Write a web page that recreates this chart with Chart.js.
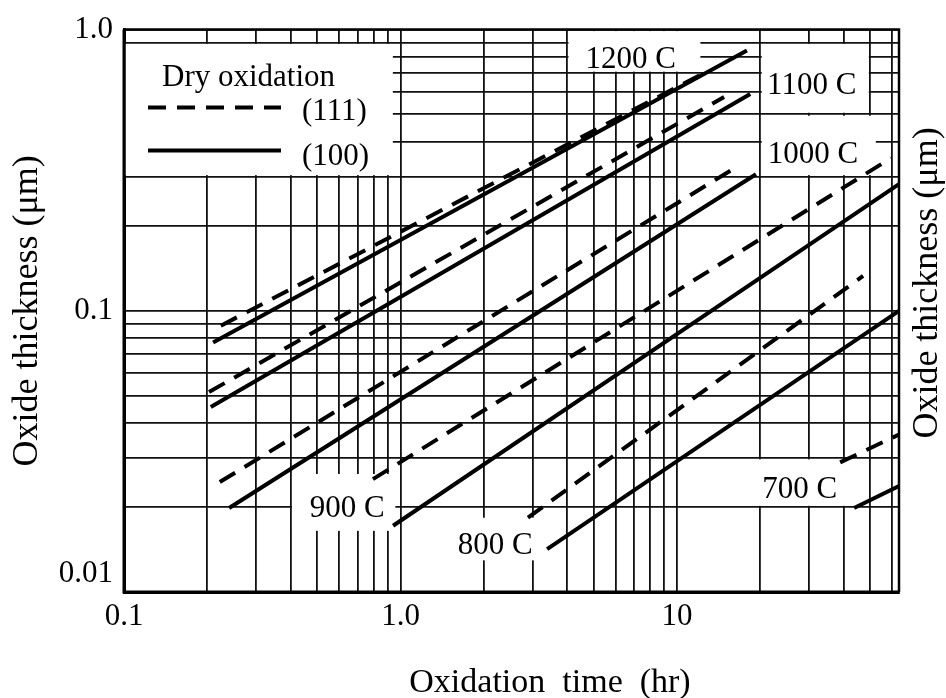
<!DOCTYPE html>
<html>
<head>
<meta charset="utf-8">
<script src="https://cdn.jsdelivr.net/npm/chart.js@4.4.1/dist/chart.umd.min.js"></script>
<style>
  html, body { margin: 0; padding: 0; background: #fff; }
</style>
</head>
<body>
<canvas id="chart" width="946" height="698"></canvas>
<script>
const FONT = '"Liberation Serif", "Times New Roman", serif';

// Dry oxidation, end points of each straight line (log-log), 1200 C ... 700 C
const temps = ["1200 C", "1100 C", "1000 C", "900 C", "800 C", "700 C"];
const time111 = [[0.224, 12.1], [0.203, 14.8], [0.222, 16.6], [0.795, 59.4], [2.89, 47.1], [38.9, 63.5]];
const thick111 = [[0.0885, 0.689], [0.0514, 0.576], [0.0246, 0.327], [0.0252, 0.349], [0.0184, 0.133], [0.0289, 0.0363]];
const time100 = [[0.210, 17.9], [0.206, 18.4], [0.240, 19.3], [0.940, 63.5], [3.39, 63.5], [43.7, 63.5]];
const thick100 = [[0.0772, 0.843], [0.0455, 0.590], [0.0199, 0.306], [0.0172, 0.282], [0.0142, 0.100], [0.0199, 0.0238]];

// grid lines and labelled ticks
const xGrid = [0.1, 0.2, 0.3, 0.4, 0.5, 0.6, 0.7, 0.8, 0.9, 1, 2, 3, 4, 5, 6, 7, 8, 9, 10, 20, 30, 40, 50, 60];
const yGrid = [0.01, 0.02, 0.03, 0.04, 0.05, 0.06, 0.07, 0.08, 0.09, 0.1, 0.2, 0.3, 0.4, 0.5, 0.6, 0.7, 0.8, 0.9, 1];
const xTickLabels = { 0.1: "0.1", 1: "1.0", 10: "10" };
const yTickLabels = { 0.01: ["0.01", ""], 0.1: "0.1", 1: "1.0" };

// where the temperature labels sit (data coords) and the white boxes behind them
const labelX = [6.8, 30.7, 31, 0.642, 2.2, 27.8];
const labelY = [0.78, 0.63, 0.36, 0.0198, 0.0146, 0.023];
const labelBoxes = [
  [4, 12.3, 0.7, 1.0],
  [20, 50, 0.5, 0.9],
  [20, 53, 0.3, 0.5],
  [0.4, 0.97, 0.0163, 0.0266],
  [1.0, 4, 0.0128, 0.0186],
  [10, 50, 0.02, 0.03]
];
const legendBox = [0.1, 0.95, 0.3, 0.9];

const DASH = [18, 11];

const datasets = [];
temps.forEach((t, i) => {
  datasets.push({
    label: t + " (111)",
    data: time111[i].map((v, k) => ({ x: v, y: thick111[i][k] })),
    borderColor: "#000",
    borderWidth: 4,
    borderDash: DASH,
    pointRadius: 0,
    fill: false
  });
  datasets.push({
    label: t + " (100)",
    data: time100[i].map((v, k) => ({ x: v, y: thick100[i][k] })),
    borderColor: "#000",
    borderWidth: 4,
    pointRadius: 0,
    fill: false
  });
});

const overlay = {
  id: "overlay",
  beforeDatasetsDraw(chart) {
    const { ctx, scales: { x, y } } = chart;
    ctx.save();
    ctx.fillStyle = "#fff";
    [legendBox, ...labelBoxes].forEach(b => {
      const x1 = x.getPixelForValue(b[0]) + 1.5;
      const x2 = x.getPixelForValue(b[1]) - 1.5;
      const y1 = y.getPixelForValue(b[3]) + 1.5;
      const y2 = y.getPixelForValue(b[2]) - 1.5;
      ctx.fillRect(x1, y1, x2 - x1, y2 - y1);
    });

    ctx.fillStyle = "#000";
    ctx.font = "31px " + FONT;
    ctx.textAlign = "center";
    ctx.textBaseline = "middle";
    temps.forEach((t, i) => {
      ctx.fillText(t, x.getPixelForValue(labelX[i]), y.getPixelForValue(labelY[i]));
    });

    // legend
    const lx = x.getPixelForValue(legendBox[0]);
    const ly = y.getPixelForValue(legendBox[3]);
    ctx.textAlign = "left";
    ctx.fillText("Dry oxidation", lx + 38, ly + 35);
    ctx.fillText("(111)", lx + 178, ly + 69);
    ctx.fillText("(100)", lx + 178, ly + 114);
    ctx.strokeStyle = "#000";
    ctx.lineWidth = 4;
    ctx.setLineDash(DASH);
    ctx.beginPath();
    ctx.moveTo(lx + 24, ly + 65);
    ctx.lineTo(lx + 157, ly + 65);
    ctx.stroke();
    ctx.setLineDash([]);
    ctx.beginPath();
    ctx.moveTo(lx + 24, ly + 108);
    ctx.lineTo(lx + 157, ly + 108);
    ctx.stroke();
    ctx.restore();
  },
  afterDatasetsDraw(chart) {
    const { ctx, chartArea: a } = chart;
    ctx.save();
    ctx.strokeStyle = "#000";
    ctx.lineWidth = 2.5;
    ctx.beginPath();
    ctx.moveTo(a.left, a.top);
    ctx.lineTo(a.right, a.top);
    ctx.lineTo(a.right, a.bottom);
    ctx.stroke();
    ctx.lineWidth = 3;
    ctx.beginPath();
    ctx.moveTo(a.left, a.top);
    ctx.lineTo(a.left, a.bottom);
    ctx.lineTo(a.right, a.bottom);
    ctx.stroke();

    // axis titles drawn where the original puts them
    ctx.fillStyle = "#000";
    ctx.textAlign = "center";
    ctx.textBaseline = "middle";
    ctx.font = "34px " + FONT;
    ctx.fillText("Oxidation  time  (hr)", 550, 683);
    ctx.font = "36px " + FONT;
    ctx.translate(928, 283);
    ctx.rotate(-Math.PI / 2);
    ctx.fillText("Oxide thickness (\u03bcm)", 0, 0);
    ctx.restore();
  }
};

new Chart(document.getElementById("chart"), {
  type: "line",
  data: { datasets },
  plugins: [overlay],
  options: {
    responsive: false,
    animation: false,
    layout: { padding: { top: 24, right: 47, left: 0, bottom: 0 } },
    plugins: { legend: { display: false }, tooltip: { enabled: false } },
    scales: {
      x: {
        type: "logarithmic",
        min: 0.1,
        max: 63.5,
        afterBuildTicks: s => { s.ticks = xGrid.map(v => ({ value: v })); },
        afterFit: s => { s.height = 106; },
        grid: { color: "#111", lineWidth: 1.8, drawTicks: false },
        border: { display: true, color: "#000", width: 3 },
        ticks: {
          autoSkip: false,
          maxRotation: 0,
          padding: 6,
          color: "#000",
          font: { family: FONT, size: 31 },
          callback: v => xTickLabels[v] ?? ""
        }
      },
      y: {
        type: "logarithmic",
        min: 0.01,
        max: 1.0,
        afterBuildTicks: s => { s.ticks = yGrid.map(v => ({ value: v })); },
        afterFit: s => { s.width = 124; },
        grid: { color: "#111", lineWidth: 1.8, drawTicks: false },
        border: { display: true, color: "#000", width: 3 },
        ticks: {
          autoSkip: false,
          padding: 11,
          color: "#000",
          font: { family: FONT, size: 31 },
          callback: v => yTickLabels[v] ?? ""
        },
        title: {
          display: true,
          text: "Oxide thickness (\u03bcm)",
          color: "#000",
          font: { family: FONT, size: 36 },
          padding: { top: 6, bottom: 0 }
        }
      }
    }
  }
});
</script>
</body>
</html>
